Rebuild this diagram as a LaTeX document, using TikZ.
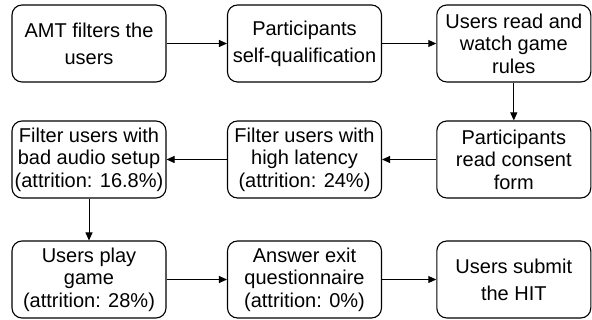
\documentclass[tikz,border=0pt]{standalone}
\usepackage{fontspec}
\setmainfont{Liberation Sans}
\usetikzlibrary{arrows.meta}
\begin{document}
\begin{tikzpicture}[x=1pt,y=-1pt,
  box/.style={draw, line width=1.1pt, rounded corners=10pt, minimum width=154pt, minimum height=77pt, align=center, inner sep=0pt, font=\fontsize{20}{27}\selectfont},
  box3/.style={box, font=\fontsize{20}{22.5}\selectfont},
  conn/.style={line width=1pt, -{Triangle[length=8pt,width=7pt]}}]
\useasboundingbox (0,0) rectangle (592,320);
\node[box]  (a) at (89,43.5) {AMT filters the\\users};
\node[box]  (b) at (304.5,43.5) {Participants\\self-qualification};
\node[box3] (c) at (513.8,43.5) {Users read and\\watch game\\rules};
\node[box3] (d) at (513.8,159.5) {Participants\\read consent\\form};
\node[box3] (e) at (304.5,159.5) {Filter users with\\high latency\\(attrition: 24\%)};
\node[box3] (f) at (89,159.5) {Filter users with\\bad audio setup\\(attrition: 16.8\%)};
\node[box3] (g) at (89,279.5) {Users play\\game\\(attrition: 28\%)};
\node[box3] (h) at (304.5,279.5) {Answer exit\\questionnaire\\(attrition: 0\%)};
\node[box]  (i) at (513.8,279.5) {Users submit\\the HIT};
\draw[conn] (a) -- (b);
\draw[conn] (b) -- (c);
\draw[conn] (c) -- (d);
\draw[conn] (d) -- (e);
\draw[conn] (e) -- (f);
\draw[conn] (f) -- (g);
\draw[conn] (g) -- (h);
\draw[conn] (h) -- (i);
\end{tikzpicture}
\end{document}
